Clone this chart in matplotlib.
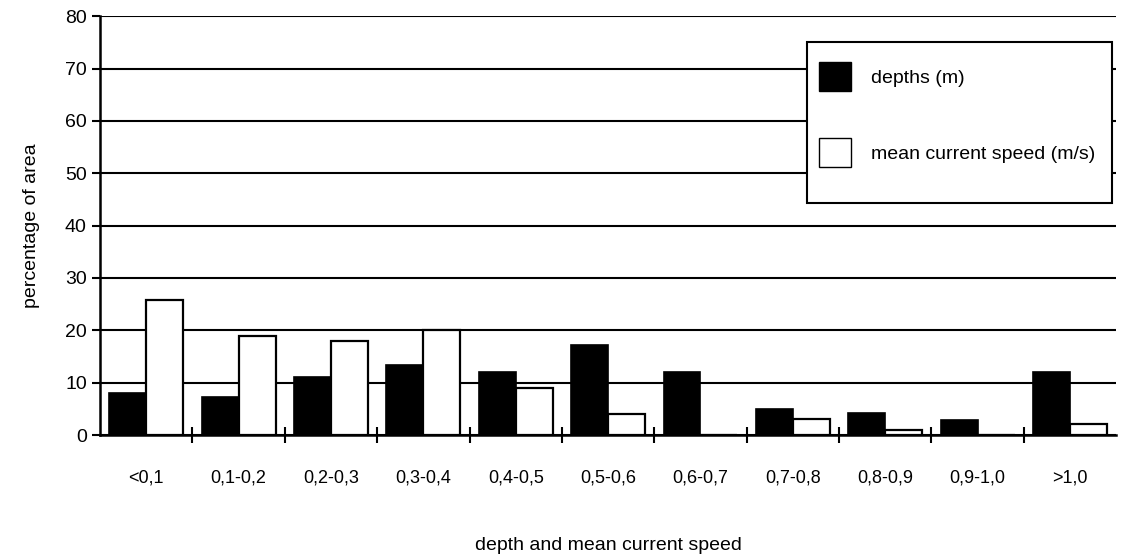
import numpy as np
import matplotlib
matplotlib.use("Agg")
import matplotlib.pyplot as plt
from matplotlib.patches import Patch, Rectangle

categories = ["<0,1", "0,1-0,2", "0,2-0,3", "0,3-0,4", "0,4-0,5", "0,5-0,6",
              "0,6-0,7", "0,7-0,8", "0,8-0,9", "0,9-1,0", ">1,0"]
depths = [8.0, 7.3, 11.1, 13.3, 12.1, 17.2, 12.1, 5.0, 4.3, 2.9, 12.1]
speeds = [25.7, 19.0, 18.0, 20.0, 9.0, 4.0, 0.0, 3.1, 1.0, 0.0, 2.1]
yticks = [0, 10, 20, 30, 40, 50, 60, 70, 80]

plt.rcParams['font.family'] = ['Liberation Sans', 'DejaVu Sans']

fig = plt.figure(figsize=(11.24, 5.58), dpi=100)
ax = fig.add_axes([0.089, 0.2204, 0.904, 0.7506])

x = np.arange(len(categories))
w = 0.4
ax.bar(x - w / 2, depths, w, color='black', edgecolor='black', linewidth=1.2, zorder=3)
ax.bar(x + w / 2, speeds, w, color='white', edgecolor='black', linewidth=1.6, zorder=3)

ax.set_xlim(-0.5, len(categories) - 0.5)
ax.set_ylim(0, 80)
ax.set_yticks(yticks)
ax.yaxis.grid(True, color='black', linewidth=1.5, zorder=0)
ax.set_axisbelow(True)

for s in ['top', 'right']:
    ax.spines[s].set_visible(False)
ax.spines['left'].set_linewidth(1.8)
ax.spines['bottom'].set_linewidth(1.8)

# group boundary ticks on x, labels centred in each group
ax.set_xticks(np.arange(len(categories) - 1) + 0.5)
ax.set_xticklabels([])
ax.set_xticks(x, minor=True)
ax.set_xticklabels(categories, minor=True, fontsize=13)
ax.tick_params(axis='x', which='major', direction='inout', length=12, width=1.5)
ax.tick_params(axis='x', which='minor', length=0, pad=25)
ax.tick_params(axis='y', direction='out', length=6, width=1.5, labelsize=14)

ax.set_ylabel('percentage of area', fontsize=14, labelpad=18)
ax.set_xlabel('depth and mean current speed', fontsize=14, labelpad=36)

# legend box (drawn separately so it can be taller than the entries need)
frame = Rectangle((0.718, 0.6362), 0.2714, 0.2885, transform=fig.transFigure,
                  facecolor='white', edgecolor='black', linewidth=1.5, zorder=4)
fig.add_artist(frame)

handles = [Patch(facecolor='black', edgecolor='black', label='depths (m)'),
           Patch(facecolor='white', edgecolor='black', label='mean current speed (m/s)')]
leg = fig.legend(handles=handles, loc='upper left', bbox_to_anchor=(0.7286, 0.889),
                 fontsize=14, frameon=False, handlelength=1.65, handleheight=1.9,
                 labelspacing=2.45, borderpad=0, borderaxespad=0, handletextpad=1.05)
leg.set_zorder(5)

fig.savefig('out.png', dpi=100, facecolor='white')
